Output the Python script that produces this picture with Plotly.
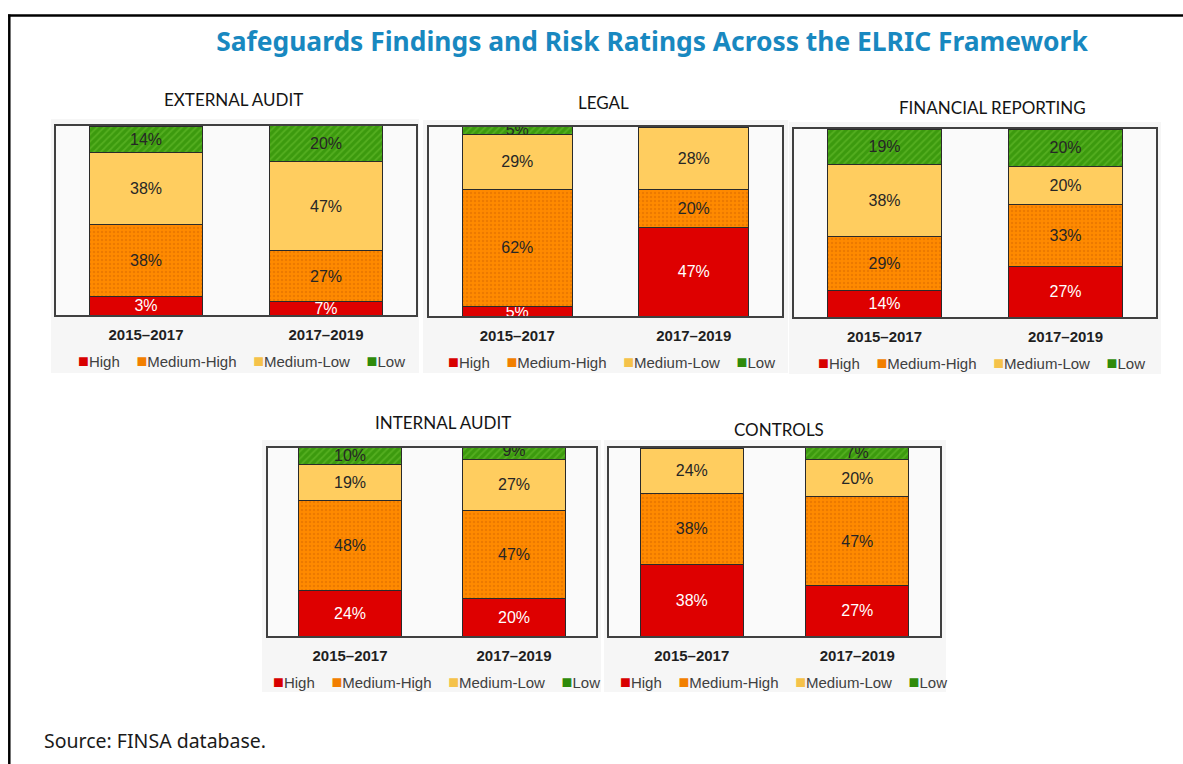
import plotly.graph_objects as go

W, H = 1183, 764

periods = ["2015–2017", "2017–2019"]
levels = ["High", "Medium-High", "Medium-Low", "Low"]
panel_titles = ["EXTERNAL AUDIT", "LEGAL", "FINANCIAL REPORTING", "INTERNAL AUDIT", "CONTROLS"]

# Segment heights (% of each bar): [2015–2017, 2017–2019]
ext_high = [10, 7]
ext_med_high = [38, 27]
ext_med_low = [38, 47]
ext_low = [14, 20]

legal_high = [5, 47]
legal_med_high = [62, 20]
legal_med_low = [29, 33]
legal_low = [5, 0]

fin_high = [14, 27]
fin_med_high = [29, 33]
fin_med_low = [38, 20]
fin_low = [19, 20]

int_high = [24, 20]
int_med_high = [48, 47]
int_med_low = [19, 27]
int_low = [10, 9]

ctl_high = [38, 27]
ctl_med_high = [38, 47]
ctl_med_low = [24, 20]
ctl_low = [0, 7]

# Printed labels that differ from the drawn segment heights in the original
ext_high_labels = ["3%", "7%"]
legal_med_low_labels = ["29%", "28%"]


def pct_labels(vals):
    return [f"{v}%" if v else "" for v in vals]


panel_series = [
    [ext_high, ext_med_high, ext_med_low, ext_low],
    [legal_high, legal_med_high, legal_med_low, legal_low],
    [fin_high, fin_med_high, fin_med_low, fin_low],
    [int_high, int_med_high, int_med_low, int_low],
    [ctl_high, ctl_med_high, ctl_med_low, ctl_low],
]
panel_labels = [[pct_labels(v) for v in s] for s in panel_series]
panel_labels[0][0] = ext_high_labels
panel_labels[1][2] = legal_med_low_labels

# ---- styling / layout (pixels) ----
boxes = [(56, 416, 126, 315), (429, 782, 127, 316), (794, 1156, 129, 317),
         (268, 596, 448, 636), (609, 940, 448, 636)]
panel_bgs = [(51, 419, 119, 373), (423, 788, 120, 373), (789, 1161, 122, 374),
             (262, 601, 440, 692), (604, 946, 440, 692)]
title_pos = [(233, 100), (603, 103), (992, 108), (443, 422), (779, 430)]
legend_pos = [(241, 361), (611, 362), (981, 363), (436, 682), (783, 682)]

OUT = "#2a2a2a"
bar_markers = [
    dict(color="#de0000", line=dict(color=OUT, width=1)),
    dict(color="#ff8a00", line=dict(color=OUT, width=1),
         pattern=dict(shape=".", fillmode="overlay", bgcolor="#ff8a00", fgcolor="#d76a00", size=4, solidity=0.3)),
    dict(color="#ffcd5f", line=dict(color=OUT, width=1)),
    dict(color="#3c9a0e", line=dict(color=OUT, width=1),
         pattern=dict(shape="/", fillmode="overlay", bgcolor="#3c9a0e", fgcolor="#6cc232", size=5, solidity=0.35)),
]
legend_colors = ["#d80000", "#f27f00", "#f5c24a", "#2f8a0a"]
label_colors = ["#ffffff", "#262626", "#262626", "#262626"]
SANS = "Liberation Sans, Arial, sans-serif"

fig = go.Figure()
shapes = []
annotations = []
layout_extra = {}

legend_text = "&nbsp;&nbsp;&nbsp;&nbsp;".join(
    f'<span style="color:{c};font-size:18px">■</span>{lvl}' for lvl, c in zip(levels, legend_colors)
)

for i in range(5):
    sfx = "" if i == 0 else str(i + 1)
    xa, ya = "x" + sfx, "y" + sfx
    for lvl, vals, labs, mk, lc in zip(levels, panel_series[i], panel_labels[i], bar_markers, label_colors):
        fig.add_trace(go.Bar(
            x=periods, y=vals, text=labs, name=lvl, xaxis=xa, yaxis=ya,
            marker=mk, textposition="inside", insidetextanchor="middle",
            constraintext="none", textangle=0,
            textfont=dict(family=SANS, size=16, color=lc),
            showlegend=False, hoverinfo="name+y",
        ))
    x0, x1, y0, y1 = boxes[i]
    layout_extra["xaxis" + sfx] = dict(
        domain=[x0 / W, x1 / W], anchor=ya, type="category", range=[-0.5, 1.5],
        showline=True, mirror=True, linecolor="#404040", linewidth=1.5,
        showgrid=False, zeroline=False, ticks="", ticklabelstandoff=5,
        tickfont=dict(family=SANS, size=15, color="#1f1f1f", weight="bold"),
        fixedrange=True,
    )
    layout_extra["yaxis" + sfx] = dict(
        domain=[1 - y1 / H, 1 - y0 / H], anchor=xa, range=[0, 100],
        showline=True, mirror=True, linecolor="#404040", linewidth=1.5,
        showgrid=False, zeroline=False, showticklabels=False, ticks="",
        fixedrange=True,
    )
    bx0, bx1, by0, by1 = panel_bgs[i]
    shapes.append(dict(type="rect", xref="paper", yref="paper", layer="below",
                       x0=bx0 / W, x1=bx1 / W, y0=1 - by1 / H, y1=1 - by0 / H,
                       fillcolor="#f6f6f6", line=dict(width=0)))
    shapes.append(dict(type="rect", xref="paper", yref="paper", layer="below",
                       x0=x0 / W, x1=x1 / W, y0=1 - y1 / H, y1=1 - y0 / H,
                       fillcolor="#fafafa", line=dict(width=0)))
    tx, ty = title_pos[i]
    annotations.append(dict(text=panel_titles[i], x=tx / W, y=1 - ty / H, xref="paper", yref="paper",
                            xanchor="center", yanchor="middle", showarrow=False,
                            font=dict(family="Lato, sans-serif", size=17, color="#141414")))
    lx, ly = legend_pos[i]
    annotations.append(dict(text=legend_text, x=lx / W, y=1 - ly / H, xref="paper", yref="paper",
                            xanchor="center", yanchor="middle", showarrow=False,
                            font=dict(family=SANS, size=15, color="#404040")))

# frame lines
shapes.append(dict(type="line", xref="paper", yref="paper", x0=8 / W, x1=1, y0=1 - 15.5 / H, y1=1 - 15.5 / H,
                   line=dict(color="#000000", width=2.5)))
shapes.append(dict(type="line", xref="paper", yref="paper", x0=9.3 / W, x1=9.3 / W, y0=0, y1=1 - 14.5 / H,
                   line=dict(color="#000000", width=2.5)))

annotations.append(dict(text="Source: FINSA database.", x=42 / W, y=1 - 740 / H, xref="paper", yref="paper",
                        xanchor="left", yanchor="middle", showarrow=False,
                        font=dict(family="Noto Sans, Open Sans, sans-serif", size=19.5, color="#1a1a1a")))

fig.update_layout(
    width=W, height=H, margin=dict(l=0, r=0, t=0, b=0),
    paper_bgcolor="#ffffff", plot_bgcolor="#fafafa",
    barmode="stack", bargap=0.375, showlegend=False,
    title=dict(text="Safeguards Findings and Risk Ratings Across the ELRIC Framework",
               x=652 / W, xanchor="center", y=1 - 42 / H, yanchor="middle",
               font=dict(family="Noto Sans, Open Sans, sans-serif", size=26.4, color="#1888c0", weight="bold")),
    shapes=shapes, annotations=annotations,
    **layout_extra,
)

fig.write_html("out.html", config={"displayModeBar": False},
               post_script="document.body.style.margin='0';")
